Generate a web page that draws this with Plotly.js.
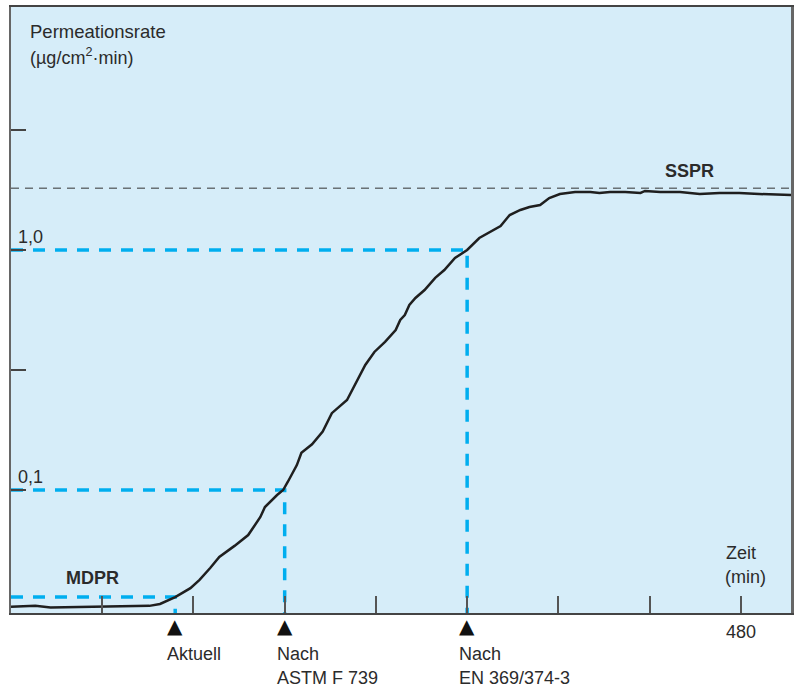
<!DOCTYPE html>
<html>
<head>
<meta charset="utf-8">
<script src="https://cdn.plot.ly/plotly-3.0.1.min.js"></script>
<style>html,body{margin:0;padding:0;background:#fff;}#chart{width:795px;height:687px;}</style>
</head>
<body>
<div id="chart"></div>
<script>
// Permeation curve (time in min, rate in µg/cm²·min)
const timeMin = [0,16,26,58,91,98,104,108,118,124,131,137,147,156,164,167,175,179,182,188,191,198,205,211,221,226,233,239,246,253,256,259,262,266,272,279,285,292,300,308,315,322,328,335,341,348,354,361,371,381,387,394,404,414,417,427,440,453,466,479,492,513];
const rate = [0.0326,0.0329,0.0324,0.0326,0.0329,0.0335,0.0348,0.0358,0.039,0.0422,0.0473,0.0526,0.0585,0.0649,0.0772,0.0849,0.0953,0.100,0.108,0.127,0.143,0.155,0.175,0.209,0.237,0.274,0.332,0.376,0.414,0.464,0.511,0.536,0.590,0.631,0.681,0.765,0.825,0.926,1.0,1.122,1.189,1.259,1.399,1.468,1.511,1.540,1.647,1.711,1.744,1.744,1.728,1.744,1.744,1.728,1.762,1.744,1.744,1.711,1.728,1.728,1.711,1.695];

// Breakthrough definitions
const markerTimes = [108, 180, 300];
const markerLevels = [0.0358, 0.1, 1.0];
const markerLines1 = ["Aktuell", "Nach", "Nach"];
const markerLines2 = ["", "ASTM F 739", "EN 369/374-3"];
const sspr = 1.81;
const mdpr = 0.0358;

// Axis settings
const xRange = [0, 513];
const yLogRange = [-1.5125, 1.0125];
const xTicks = [60,120,180,240,300,360,420,480];
const yTicks = [0.1, 0.3162, 1, 3.162];
const yLabelVals = [1.0, 0.1];
const yLabelText = ["1,0", "0,1"];

const yBottom = Math.pow(10, yLogRange[0]);
const FONT = "Liberation Sans, Arial, sans-serif";
const TXT = "#2b2b2b";
const BLUE = "#00aeef";

const traces = [];
// blue dashed guide lines
markerTimes.forEach((t, i) => {
  traces.push({
    x: [0, t, t], y: [markerLevels[i], markerLevels[i], yBottom],
    mode: "lines", line: {color: BLUE, width: 3.5, dash: "12px,10px"},
    hoverinfo: "skip", showlegend: false
  });
});
// SSPR dashed line
traces.push({
  x: [xRange[0], xRange[1]], y: [sspr, sspr], mode: "lines",
  line: {color: "#333", width: 1, dash: "8px,6px"}, hoverinfo: "skip", showlegend: false
});
// curve
traces.push({
  x: timeMin, y: rate, mode: "lines",
  line: {color: "#1f1f1f", width: 2.5}, showlegend: false
});

const ann = [];
ann.push({xref:"paper", yref:"paper", x:0.0218, y:0.960, xanchor:"left", yanchor:"middle", text:"Permeationsrate", showarrow:false, font:{family:FONT, size:18.5, color:TXT}});
ann.push({xref:"paper", yref:"paper", x:0.0218, y:0.919, xanchor:"left", yanchor:"middle", text:"(µg/cm<sup>2</sup>·min)", showarrow:false, font:{family:FONT, size:18, color:TXT}});
yLabelVals.forEach((v, i) => {
  ann.push({xref:"paper", yref:"y", x:0.006, y:Math.log10(v), xanchor:"left", yanchor:"bottom", yshift:1, text:yLabelText[i], showarrow:false, font:{family:FONT, size:18, color:TXT}});
});
ann.push({xref:"paper", yref:"y", x:0.104, y:Math.log10(mdpr), xanchor:"center", yanchor:"bottom", yshift:7, text:"<b>MDPR</b>", showarrow:false, font:{family:FONT, size:18, color:TXT}});
ann.push({xref:"paper", yref:"y", x:0.870, y:Math.log10(sspr), xanchor:"center", yanchor:"bottom", yshift:5, text:"<b>SSPR</b>", showarrow:false, font:{family:FONT, size:18, color:TXT}});
ann.push({xref:"paper", yref:"paper", x:0.913, y:0.099, xanchor:"left", yanchor:"middle", xshift:1, text:"Zeit", showarrow:false, font:{family:FONT, size:18, color:TXT}});
ann.push({xref:"paper", yref:"paper", x:0.913, y:0.0594, xanchor:"left", yanchor:"middle", text:"(min)", showarrow:false, font:{family:FONT, size:18, color:TXT}});
ann.push({xref:"x", yref:"paper", x:480, y:-0.0314, xanchor:"center", yanchor:"middle", text:"480", showarrow:false, font:{family:FONT, size:18, color:TXT}});
markerTimes.forEach((t, i) => {
  ann.push({xref:"x", yref:"paper", x:t, y:-0.0215, xanchor:"center", yanchor:"middle", text:"▲", showarrow:false, font:{family:"DejaVu Sans", size:20, color:"#111"}});
  ann.push({xref:"x", yref:"paper", x:t, y:-0.0677, xanchor:"left", yanchor:"middle", xshift:-10, text:markerLines1[i], showarrow:false, font:{family:FONT, size:18, color:TXT}});
  if (markerLines2[i]) {
    ann.push({xref:"x", yref:"paper", x:t, y:-0.107, xanchor:"left", yanchor:"middle", xshift:-10, text:markerLines2[i], showarrow:false, font:{family:FONT, size:18, color:TXT}});
  }
});

const layout = {
  width: 795, height: 687,
  margin: {l: 11, r: 4, t: 7, b: 74, pad: 0},
  paper_bgcolor: "#ffffff",
  plot_bgcolor: "#d6edf9",
  showlegend: false,
  xaxis: {
    type: "linear", range: xRange, tickvals: xTicks, showticklabels: false,
    ticks: "inside", ticklen: 17, tickwidth: 2, tickcolor: "#555",
    showgrid: false, zeroline: false,
    showline: true, linecolor: "#444", linewidth: 2, mirror: true
  },
  yaxis: {
    type: "log", range: yLogRange, tickvals: yTicks, showticklabels: false,
    ticks: "inside", ticklen: 15, tickwidth: 2, tickcolor: "#444",
    showgrid: false, zeroline: false,
    showline: true, linecolor: "#666", linewidth: 2.5, mirror: true
  },
  annotations: ann
};

Plotly.newPlot("chart", traces, layout, {displayModeBar: false, staticPlot: true});
</script>
</body>
</html>
